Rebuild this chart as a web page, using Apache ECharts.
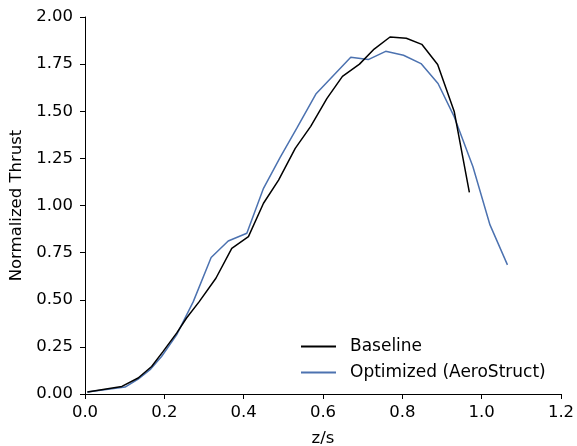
<!DOCTYPE html>
<html>
<head>
<meta charset="utf-8">
<script src="https://cdn.jsdelivr.net/npm/echarts@6/dist/echarts.min.js"></script>
<style>
html,body{margin:0;padding:0;background:#fff;}
#chart{width:577px;height:446px;}
</style>
</head>
<body>
<div id="chart"></div>
<script>
const baselineX = [0.006,0.093,0.134,0.168,0.197,0.231,0.256,0.288,0.330,0.370,0.412,0.450,0.488,0.530,0.569,0.610,0.649,0.692,0.729,0.769,0.810,0.849,0.889,0.931,0.969];
const baselineY = [0.011,0.040,0.085,0.146,0.226,0.323,0.403,0.490,0.614,0.773,0.835,1.012,1.135,1.303,1.420,1.568,1.685,1.750,1.830,1.894,1.887,1.855,1.748,1.497,1.070];
const optimizedX = [0.006,0.101,0.134,0.164,0.193,0.231,0.273,0.318,0.361,0.408,0.450,0.492,0.534,0.582,0.670,0.714,0.758,0.803,0.847,0.890,0.931,0.978,1.021,1.065];
const optimizedY = [0.011,0.037,0.079,0.129,0.199,0.314,0.490,0.724,0.812,0.853,1.091,1.255,1.410,1.591,1.787,1.774,1.818,1.797,1.753,1.647,1.470,1.206,0.897,0.685];
const seriesNames = ['Baseline','Optimized (AeroStruct)'];
const xTitle = 'z/s';
const yTitle = 'Normalized Thrust';

const zip = (xs, ys) => xs.map((x, i) => [x, ys[i]]);
const FONT = 'DejaVu Sans';
const FS = 16.5;

const chart = echarts.init(document.getElementById('chart'), null, {renderer:'canvas'});
chart.setOption({
  animation: false,
  backgroundColor: '#ffffff',
  grid: {left: 85, right: 16, top: 17, bottom: 52, containLabel: false, outerBoundsMode: 'none'},
  legend: {
    orient: 'vertical',
    left: 295,
    top: 333,
    padding: 5,
    itemWidth: 35,
    itemHeight: 14,
    itemGap: 9,
    itemStyle: {opacity: 0},
    textStyle: {fontFamily: FONT, fontSize: 17, color: '#000', padding: [0,0,0,9]},
    data: seriesNames
  },
  xAxis: {
    type: 'value', min: 0, max: 1.2, interval: 0.2,
    name: xTitle, nameLocation: 'middle', nameGap: 36,
    nameTextStyle: {fontFamily: FONT, fontSize: FS, color: '#000'},
    axisLine: {show: true, lineStyle: {color: '#000', width: 1}},
    axisTick: {show: true, inside: false, length: 5, lineStyle: {color: '#000'}},
    axisLabel: {fontFamily: FONT, fontSize: FS, color: '#000', margin: 10,
      formatter: v => v.toFixed(1)},
    splitLine: {show: false}
  },
  yAxis: {
    type: 'value', min: 0, max: 2, interval: 0.25,
    name: yTitle, nameLocation: 'middle', nameGap: 56,
    nameTextStyle: {fontFamily: FONT, fontSize: FS, color: '#000'},
    axisLine: {show: true, lineStyle: {color: '#000', width: 1}},
    axisTick: {show: true, inside: false, length: 5, lineStyle: {color: '#000'}},
    axisLabel: {fontFamily: FONT, fontSize: FS, color: '#000', margin: 12,
      formatter: v => v.toFixed(2)},
    splitLine: {show: false}
  },
  series: [
    {name: seriesNames[0], type: 'line', data: zip(baselineX, baselineY),
      symbol: 'none', color: '#000000', lineStyle: {color: '#000000', width: 1.5}, z: 3},
    {name: seriesNames[1], type: 'line', data: zip(optimizedX, optimizedY),
      symbol: 'none', color: '#4c72b0', lineStyle: {color: '#4c72b0', width: 1.5}, z: 2}
  ]
});
</script>
</body>
</html>
